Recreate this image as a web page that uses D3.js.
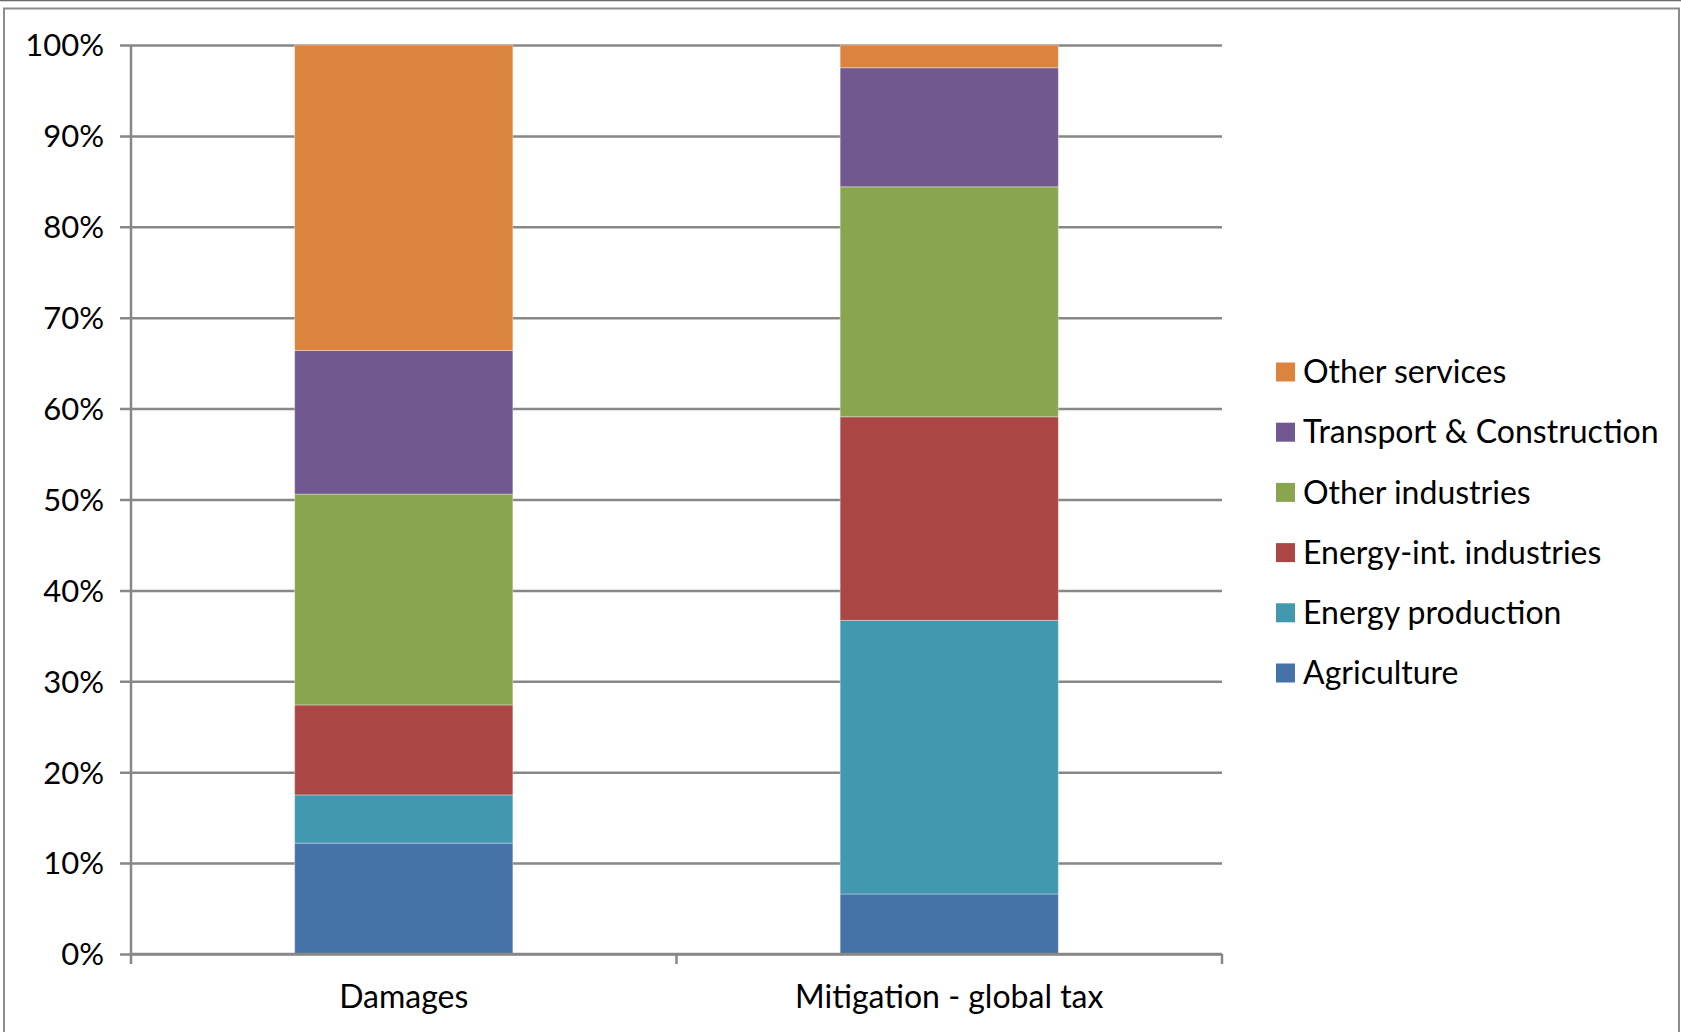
<!DOCTYPE html>
<html>
<head>
<meta charset="utf-8">
<script src="https://d3js.org/d3.v7.min.js"></script>
<style>
    body { margin: 0; background: #fff; }
    #chart-area text { font-family: Lato, "Open Sans", sans-serif; fill: #000; }
</style>
</head>
<body>
<div id="chart-area"></div>
<script>

// chart data
let categories = ["Damages", "Mitigation - global tax"];
let sectors = ["Agriculture", "Energy production", "Energy-int. industries", "Other industries", "Transport & Construction", "Other services"];
let damagesShares = [12.2, 5.3, 9.9, 23.2, 15.8, 33.6];
let mitigationShares = [6.6, 30.1, 22.4, 25.3, 13.1, 2.5];
let yTickValues = [0, 10, 20, 30, 40, 50, 60, 70, 80, 90, 100];
let sectorColors = ["#4572A7", "#4198AF", "#AA4643", "#89A54E", "#71588F", "#DB843D"];

class SectorShareVis {

    constructor(parentElement) {
        this.parentElement = parentElement;

        // one row per category, one column per sector
        let seriesValues = [damagesShares, mitigationShares];
        this.data = categories.map((c, i) => {
            let row = {category: c};
            sectors.forEach((s, j) => row[s] = seriesValues[i][j]);
            return row;
        });

        this.initVis()
    }

    initVis() {
        let vis = this;

        vis.totalWidth = 1681;
        vis.totalHeight = 1032;
        vis.margin = {top: 45, right: 459, bottom: 78, left: 131};
        vis.width = vis.totalWidth - vis.margin.left - vis.margin.right;
        vis.height = vis.totalHeight - vis.margin.top - vis.margin.bottom;

        vis.root = d3.select("#" + vis.parentElement).append("svg")
            .attr("width", vis.totalWidth)
            .attr("height", vis.totalHeight);

        // outer chart frame
        vis.root.append("line")
            .attr("x1", 0).attr("x2", vis.totalWidth)
            .attr("y1", 0.5).attr("y2", 0.5)
            .attr("stroke", "#6b6b6b")
            .attr("stroke-width", 1.5);
        vis.root.append("rect")
            .attr("x", 4).attr("y", 8.5)
            .attr("width", 1675).attr("height", 1040)
            .attr("fill", "none")
            .attr("stroke", "#8c8c8c")
            .attr("stroke-width", 2);

        vis.svg = vis.root.append("g")
            .attr("transform", `translate(${vis.margin.left}, ${vis.margin.top})`);

        // scales
        vis.xScale = d3.scaleBand()
            .domain(categories)
            .range([0, vis.width])
            .paddingInner(0.6)
            .paddingOuter(0.3);

        vis.yScale = d3.scaleLinear()
            .domain([0, 100])
            .range([vis.height, 0]);

        vis.colorScale = d3.scaleOrdinal()
            .domain(sectors)
            .range(sectorColors);

        // gridlines with left tick marks
        vis.yAxis = d3.axisLeft(vis.yScale)
            .tickValues(yTickValues)
            .tickSize(-vis.width)
            .tickFormat(d => d + "%");

        vis.yAxisGroup = vis.svg.append("g")
            .attr("class", "y-axis axis")
            .call(vis.yAxis);
        vis.yAxisGroup.select(".domain").remove();
        vis.yAxisGroup.selectAll(".tick line")
            .attr("x1", -11)
            .attr("stroke", "#878787")
            .attr("stroke-width", 2.5);
        vis.yAxisGroup.selectAll(".tick text")
            .attr("x", -27)
            .attr("dy", "0.35em")
            .style("font-size", "31px");

        // stacked bars
        vis.stack = d3.stack().keys(sectors);
        vis.layers = vis.stack(vis.data);

        vis.svg.selectAll(".layer")
            .data(vis.layers)
            .enter()
            .append("g")
            .attr("class", "layer")
            .attr("fill", d => vis.colorScale(d.key))
            .selectAll("rect")
            .data(d => d)
            .enter()
            .append("rect")
            .attr("x", d => vis.xScale(d.data.category))
            .attr("width", vis.xScale.bandwidth())
            .attr("y", d => vis.yScale(d[1]))
            .attr("height", d => vis.yScale(d[0]) - vis.yScale(d[1]))
            .attr("stroke", "rgba(255,255,255,0.35)")
            .attr("stroke-width", 1);

        // y axis line
        vis.svg.append("line")
            .attr("x1", 0).attr("x2", 0)
            .attr("y1", 0).attr("y2", vis.height)
            .attr("stroke", "#878787")
            .attr("stroke-width", 2.5);

        // bottom axis with category labels
        vis.xAxis = d3.axisBottom(vis.xScale)
            .tickSize(0)
            .tickPadding(54);

        vis.xAxisGroup = vis.svg.append("g")
            .attr("class", "x-axis axis")
            .attr("transform", `translate(0, ${vis.height})`)
            .call(vis.xAxis);
        vis.xAxisGroup.select(".domain")
            .attr("stroke", "#878787")
            .attr("stroke-width", 2.5)
            .attr("d", `M0,0H${vis.width}`);
        vis.xAxisGroup.selectAll(".tick text")
            .attr("dy", "0")
            .style("font-size", "32px");

        // category separators on the x axis
        let step = vis.xScale.step();
        vis.xAxisGroup.selectAll(".sep")
            .data(d3.range(categories.length + 1))
            .enter()
            .append("line")
            .attr("x1", i => i * step)
            .attr("x2", i => i * step)
            .attr("y1", 0)
            .attr("y2", 10)
            .attr("stroke", "#878787")
            .attr("stroke-width", 2.5);

        vis.drawLegend();
    }

    drawLegend() {
        let vis = this;

        let legendItems = sectors.slice().reverse();

        vis.legend = vis.root.append("g")
            .attr("transform", "translate(1276, 372)");

        let rows = vis.legend.selectAll(".legend-row")
            .data(legendItems)
            .enter()
            .append("g")
            .attr("class", "legend-row")
            .attr("transform", (d, i) => `translate(0, ${i * 60.2})`);

        rows.append("rect")
            .attr("x", 0)
            .attr("y", -9.5)
            .attr("width", 19)
            .attr("height", 19)
            .attr("fill", d => vis.colorScale(d));

        rows.append("text")
            .attr("x", 27)
            .attr("dy", "0.35em")
            .style("font-size", "32px")
            .text(d => d);
    }
}

new SectorShareVis("chart-area");

</script>
</body>
</html>
